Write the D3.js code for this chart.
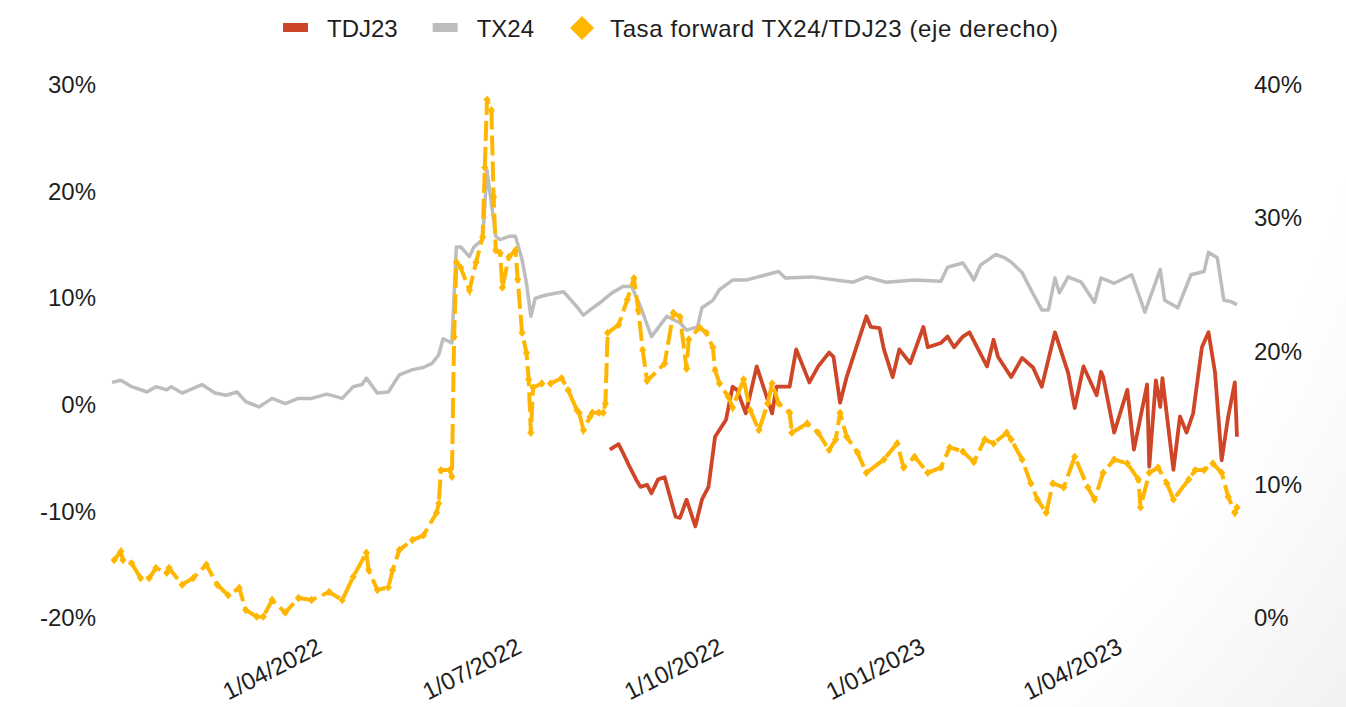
<!DOCTYPE html>
<html>
<head>
<meta charset="utf-8">
<script src="https://cdn.jsdelivr.net/npm/d3@7"></script>
<style>
  body { margin: 0; background: #fff; }
  svg text { font-family: "Liberation Sans", Arial, sans-serif; fill: #1e1e1e; }
</style>
</head>
<body>
<div id="chart"></div>
<script>
// TX24 (left axis, %)
const tx24 = [
  ["2022-01-03", 2.1], ["2022-01-07", 2.3], ["2022-01-12", 1.7], ["2022-01-19", 1.2],
  ["2022-01-23", 1.7], ["2022-01-28", 1.4], ["2022-01-30", 1.7], ["2022-02-04", 1.1],
  ["2022-02-13", 1.9], ["2022-02-19", 1.1], ["2022-02-24", 0.9], ["2022-03-01", 1.2],
  ["2022-03-05", 0.3], ["2022-03-11", -0.2], ["2022-03-17", 0.6], ["2022-03-23", 0.1],
  ["2022-03-29", 0.6], ["2022-04-04", 0.6], ["2022-04-11", 1.0], ["2022-04-18", 0.6],
  ["2022-04-23", 1.7], ["2022-04-27", 1.9], ["2022-04-29", 2.5], ["2022-05-04", 1.1],
  ["2022-05-09", 1.2], ["2022-05-14", 2.8], ["2022-05-20", 3.3], ["2022-05-25", 3.5],
  ["2022-05-29", 3.9], ["2022-06-01", 4.7], ["2022-06-03", 6.2], ["2022-06-07", 5.8],
  ["2022-06-09", 14.8], ["2022-06-11", 14.8], ["2022-06-15", 13.9], ["2022-06-17", 14.8],
  ["2022-06-21", 15.5], ["2022-06-23", 22.0], ["2022-06-27", 15.8], ["2022-06-29", 15.5],
  ["2022-07-03", 15.8], ["2022-07-06", 15.8], ["2022-07-09", 13.6], ["2022-07-11", 11.4],
  ["2022-07-13", 8.3], ["2022-07-15", 10.0], ["2022-07-20", 10.3], ["2022-07-28", 10.6],
  ["2022-08-03", 9.2], ["2022-08-06", 8.4], ["2022-08-09", 8.9], ["2022-08-13", 9.5],
  ["2022-08-19", 10.5], ["2022-08-24", 11.1], ["2022-08-28", 11.1], ["2022-09-01", 9.2],
  ["2022-09-06", 6.4], ["2022-09-13", 8.3], ["2022-09-19", 7.7], ["2022-09-22", 7.0],
  ["2022-09-27", 7.3], ["2022-09-29", 9.1], ["2022-10-04", 9.8], ["2022-10-07", 10.8],
  ["2022-10-13", 11.7], ["2022-10-19", 11.7], ["2022-11-03", 12.5], ["2022-11-06", 11.9],
  ["2022-11-18", 12.0], ["2022-12-07", 11.5], ["2022-12-13", 12.0], ["2022-12-22", 11.5],
  ["2023-01-04", 11.7], ["2023-01-16", 11.6], ["2023-01-19", 12.9], ["2023-01-26", 13.3],
  ["2023-01-29", 12.4], ["2023-01-31", 11.7], ["2023-02-03", 13.1], ["2023-02-10", 14.1],
  ["2023-02-14", 13.8], ["2023-02-17", 13.4], ["2023-02-22", 12.4], ["2023-02-26", 10.8],
  ["2023-03-03", 8.9], ["2023-03-06", 8.9], ["2023-03-09", 11.9], ["2023-03-11", 10.5],
  ["2023-03-15", 12.0], ["2023-03-21", 11.5], ["2023-03-27", 9.6], ["2023-03-30", 11.9],
  ["2023-04-05", 11.4], ["2023-04-13", 12.2], ["2023-04-19", 8.7], ["2023-04-26", 12.7],
  ["2023-04-28", 9.8], ["2023-05-04", 9.1], ["2023-05-10", 12.2], ["2023-05-16", 12.5],
  ["2023-05-18", 14.3], ["2023-05-22", 13.8], ["2023-05-25", 9.8], ["2023-05-28", 9.7],
  ["2023-05-31", 9.4]
];

// TDJ23 (left axis, %)
const tdj23 = [
  ["2022-08-18", -4.2], ["2022-08-22", -3.7], ["2022-08-24", -4.5], ["2022-08-27", -5.8],
  ["2022-08-30", -7.0], ["2022-09-01", -7.7], ["2022-09-04", -7.5], ["2022-09-06", -8.3],
  ["2022-09-09", -7.0], ["2022-09-12", -6.8], ["2022-09-17", -10.5], ["2022-09-19", -10.6],
  ["2022-09-22", -8.9], ["2022-09-26", -11.4], ["2022-09-29", -8.9], ["2022-10-02", -7.7],
  ["2022-10-05", -3.0], ["2022-10-10", -1.4], ["2022-10-13", 1.7], ["2022-10-15", 1.4],
  ["2022-10-19", -0.8], ["2022-10-24", 3.6], ["2022-10-31", -0.8], ["2022-11-02", 1.7],
  ["2022-11-08", 1.7], ["2022-11-11", 5.2], ["2022-11-17", 2.1], ["2022-11-21", 3.6],
  ["2022-11-26", 4.9], ["2022-11-28", 4.5], ["2022-12-01", 0.2], ["2022-12-04", 2.6],
  ["2022-12-13", 8.3], ["2022-12-15", 7.3], ["2022-12-19", 7.2], ["2022-12-21", 5.2],
  ["2022-12-25", 2.6], ["2022-12-28", 5.2], ["2023-01-02", 3.9], ["2023-01-08", 7.3],
  ["2023-01-10", 5.4], ["2023-01-16", 5.8], ["2023-01-19", 6.4], ["2023-01-22", 5.4],
  ["2023-01-26", 6.4], ["2023-01-29", 6.8], ["2023-02-01", 5.6], ["2023-02-06", 3.6],
  ["2023-02-09", 6.1], ["2023-02-11", 4.5], ["2023-02-17", 2.6], ["2023-02-22", 4.4],
  ["2023-02-27", 3.5], ["2023-03-03", 1.7], ["2023-03-09", 6.8], ["2023-03-15", 3.0],
  ["2023-03-18", -0.3], ["2023-03-22", 3.6], ["2023-03-28", 0.9], ["2023-03-30", 3.1],
  ["2023-03-31", 2.6], ["2023-04-05", -2.6], ["2023-04-11", 1.4], ["2023-04-14", -4.2],
  ["2023-04-20", 1.9], ["2023-04-21", -5.8], ["2023-04-24", 2.3], ["2023-04-26", -0.2],
  ["2023-04-27", 2.5], ["2023-05-02", -6.1], ["2023-05-05", -1.1], ["2023-05-08", -2.6],
  ["2023-05-11", -0.8], ["2023-05-15", 5.4], ["2023-05-18", 6.8], ["2023-05-21", 3.0],
  ["2023-05-24", -5.2], ["2023-05-27", -1.1], ["2023-05-30", 2.1], ["2023-05-31", -3.0]
];

// Tasa forward TX24/TDJ23 (right axis, %)
const forward = [
  ["2022-01-04", 4.35], ["2022-01-07", 5.0], ["2022-01-08", 4.35], ["2022-01-12", 4.1],
  ["2022-01-16", 3.0], ["2022-01-20", 3.0], ["2022-01-23", 3.75], ["2022-01-28", 3.4],
  ["2022-01-29", 3.75], ["2022-02-04", 2.5], ["2022-02-09", 3.0], ["2022-02-15", 4.0],
  ["2022-02-20", 2.5], ["2022-02-25", 1.7], ["2022-03-02", 2.25], ["2022-03-05", 0.6],
  ["2022-03-10", 0.1], ["2022-03-13", 0.1], ["2022-03-17", 1.35], ["2022-03-23", 0.4],
  ["2022-03-29", 1.5], ["2022-04-04", 1.35], ["2022-04-12", 1.95], ["2022-04-18", 1.35],
  ["2022-04-23", 3.1], ["2022-04-29", 4.9], ["2022-04-30", 3.6], ["2022-05-04", 2.1],
  ["2022-05-09", 2.3], ["2022-05-11", 3.6], ["2022-05-14", 5.1], ["2022-05-20", 5.85],
  ["2022-05-25", 6.2], ["2022-05-31", 7.9], ["2022-06-01", 8.6], ["2022-06-02", 11.1],
  ["2022-06-06", 11.1], ["2022-06-07", 10.6], ["2022-06-08", 21.1], ["2022-06-09", 26.7],
  ["2022-06-11", 26.3], ["2022-06-15", 24.6], ["2022-06-18", 26.7], ["2022-06-21", 28.6],
  ["2022-06-22", 33.8], ["2022-06-23", 38.9], ["2022-06-25", 38.1], ["2022-06-26", 31.6],
  ["2022-06-27", 27.6], ["2022-06-29", 27.4], ["2022-06-30", 24.8], ["2022-07-03", 27.1],
  ["2022-07-06", 27.6], ["2022-07-07", 25.4], ["2022-07-09", 21.4], ["2022-07-11", 19.9],
  ["2022-07-12", 17.9], ["2022-07-13", 13.9], ["2022-07-14", 17.3], ["2022-07-18", 17.6],
  ["2022-07-22", 17.6], ["2022-07-27", 18.0], ["2022-07-30", 17.1], ["2022-08-03", 15.6],
  ["2022-08-04", 15.4], ["2022-08-06", 14.1], ["2022-08-09", 15.1], ["2022-08-10", 15.4],
  ["2022-08-13", 15.4], ["2022-08-15", 15.4], ["2022-08-16", 16.1], ["2022-08-17", 21.4],
  ["2022-08-22", 22.0], ["2022-08-26", 23.9], ["2022-08-29", 25.5], ["2022-08-31", 23.1],
  ["2022-09-02", 20.1], ["2022-09-04", 17.8], ["2022-09-12", 19.1], ["2022-09-16", 22.9],
  ["2022-09-19", 22.6], ["2022-09-22", 18.7], ["2022-09-23", 20.9], ["2022-09-28", 21.8],
  ["2022-10-01", 21.4], ["2022-10-04", 20.3], ["2022-10-05", 18.6], ["2022-10-07", 17.6],
  ["2022-10-11", 16.6], ["2022-10-13", 15.8], ["2022-10-18", 17.9], ["2022-10-21", 15.6],
  ["2022-10-25", 14.1], ["2022-10-29", 16.1], ["2022-10-31", 17.6], ["2022-11-03", 16.1],
  ["2022-11-08", 15.4], ["2022-11-09", 13.9], ["2022-11-16", 14.6], ["2022-11-21", 13.9],
  ["2022-11-26", 12.6], ["2022-11-29", 13.4], ["2022-12-01", 15.4], ["2022-12-04", 13.6],
  ["2022-12-09", 12.4], ["2022-12-13", 10.9], ["2022-12-21", 11.9], ["2022-12-27", 13.1],
  ["2022-12-30", 11.3], ["2023-01-04", 12.1], ["2023-01-10", 10.9], ["2023-01-16", 11.3],
  ["2023-01-20", 12.8], ["2023-01-26", 12.5], ["2023-01-31", 11.7], ["2023-02-05", 13.4],
  ["2023-02-09", 13.1], ["2023-02-15", 13.9], ["2023-02-17", 13.4], ["2023-02-22", 11.9],
  ["2023-02-26", 10.1], ["2023-03-01", 8.9], ["2023-03-05", 7.9], ["2023-03-08", 10.1],
  ["2023-03-13", 9.8], ["2023-03-18", 12.1], ["2023-03-24", 9.8], ["2023-03-27", 8.9],
  ["2023-03-31", 10.9], ["2023-04-05", 11.9], ["2023-04-11", 11.6], ["2023-04-16", 10.4],
  ["2023-04-17", 8.3], ["2023-04-21", 10.9], ["2023-04-25", 11.3], ["2023-04-29", 10.1],
  ["2023-05-02", 8.9], ["2023-05-09", 10.4], ["2023-05-12", 11.1], ["2023-05-16", 11.1],
  ["2023-05-20", 11.6], ["2023-05-24", 10.9], ["2023-05-27", 9.1], ["2023-05-30", 7.9],
  ["2023-05-31", 8.3]
];

const leftTicks = [-20, -10, 0, 10, 20, 30];
const rightTicks = [0, 10, 20, 30, 40];
const dateTicks = ["2022-04-01", "2022-07-01", "2022-10-01", "2023-01-01", "2023-04-01"];
const legendLabels = ["TDJ23", "TX24", "Tasa forward TX24/TDJ23 (eje derecho)"];

const colors = { tdj23: "#cf4527", tx24: "#bdbdbd", forward: "#ffb600" };

const W = 1346, H = 707;
const margin = { top: 85, right: 109, bottom: 89, left: 112 };
const width = W - margin.left - margin.right;
const height = H - margin.top - margin.bottom;
const parse = d3.timeParse("%Y-%m-%d");

const svg = d3.select("#chart")
    .append("svg")
    .attr("width", W)
    .attr("height", H);

// faint shading in the lower right corner
let grad = svg.append("defs")
    .append("radialGradient")
    .attr("id", "bg")
    .attr("gradientUnits", "userSpaceOnUse")
    .attr("cx", 300).attr("cy", -100).attr("r", 1350);
grad.append("stop").attr("offset", 0.8).attr("stop-color", "#ffffff");
grad.append("stop").attr("offset", 1).attr("stop-color", "#f0f0f0");
svg.append("rect").attr("width", W).attr("height", H).attr("fill", "url(#bg)");

const g = svg.append("g")
    .attr("transform", `translate(${margin.left}, ${margin.top})`);

const x = d3.scaleTime()
    .domain([parse("2022-01-03"), parse("2023-05-31")])
    .range([0, width]);
const yLeft = d3.scaleLinear().domain([-20, 30]).range([height, 0]);
const yRight = d3.scaleLinear().domain([0, 40]).range([height, 0]);

// axes (no lines, labels only)
let leftAxis = g.append("g")
    .call(d3.axisLeft(yLeft).tickValues(leftTicks).tickSize(0).tickPadding(16)
        .tickFormat(d => d + "%"));
let rightAxis = g.append("g")
    .attr("transform", `translate(${width}, 0)`)
    .call(d3.axisRight(yRight).tickValues(rightTicks).tickSize(0).tickPadding(17)
        .tickFormat(d => d + "%"));
let bottomAxis = g.append("g")
    .attr("transform", `translate(0, ${height})`)
    .call(d3.axisBottom(x).tickValues(dateTicks.map(parse)).tickSize(0)
        .tickFormat(d3.timeFormat("%-d/%m/%Y")));

[leftAxis, rightAxis, bottomAxis].forEach(function(a) {
    a.select(".domain").remove();
    a.selectAll("text")
        .attr("font-size", 24)
        .style("font-family", "'Liberation Sans', Arial, sans-serif")
        .attr("fill", "#1e1e1e");
});

bottomAxis.selectAll("text")
    .attr("y", 0)
    .attr("dy", 0)
    .attr("text-anchor", "end")
    .attr("transform", "translate(18, 34) rotate(-27)");

function lineFor(yScale) {
    return d3.line()
        .x(d => x(parse(d[0])))
        .y(d => yScale(d[1]))
        .curve(d3.curveLinear);
}

g.append("path")
    .datum(tx24)
    .attr("d", lineFor(yLeft))
    .attr("fill", "none")
    .attr("stroke", colors.tx24)
    .attr("stroke-width", 3.5)
    .attr("stroke-linejoin", "round");

g.append("path")
    .datum(tdj23)
    .attr("d", lineFor(yLeft))
    .attr("fill", "none")
    .attr("stroke", colors.tdj23)
    .attr("stroke-width", 3.8)
    .attr("stroke-linejoin", "round");

let fwd = g.append("g");
fwd.append("path")
    .datum(forward)
    .attr("d", lineFor(yRight))
    .attr("fill", "none")
    .attr("stroke", colors.forward)
    .attr("stroke-width", 4)
    .attr("stroke-dasharray", "20,6");

fwd.selectAll("path.mark")
    .data(forward)
    .join("path")
    .attr("class", "mark")
    .attr("transform", d => `translate(${x(parse(d[0]))}, ${yRight(d[1])})`)
    .attr("d", "M0,-4.2L3.6,0L0,4.2L-3.6,0Z")
    .attr("fill", colors.forward);

// legend
let legend = svg.append("g").attr("transform", "translate(0, 28)");
let cursor = 283;
legendLabels.forEach(function(label, i) {
    let item = legend.append("g");
    if (i < 2) {
        item.append("rect")
            .attr("x", cursor).attr("y", -5)
            .attr("width", 25).attr("height", 9)
            .attr("fill", i === 0 ? colors.tdj23 : colors.tx24);
    } else {
        item.append("path")
            .attr("transform", `translate(${cursor + 13}, 0)`)
            .attr("d", "M0,-12L12,0L0,12L-12,0Z")
            .attr("fill", colors.forward);
    }
    let t = item.append("text")
        .attr("x", cursor + (i < 2 ? 44 : 41))
        .attr("y", 9)
        .attr("font-size", 24)
        .text(label);
    if (i === 2) {
        t.attr("textLength", 448).attr("lengthAdjust", "spacing");
    }
    cursor = cursor + (i < 2 ? 44 : 41) + t.node().getComputedTextLength() + 35;
});
</script>
</body>
</html>
